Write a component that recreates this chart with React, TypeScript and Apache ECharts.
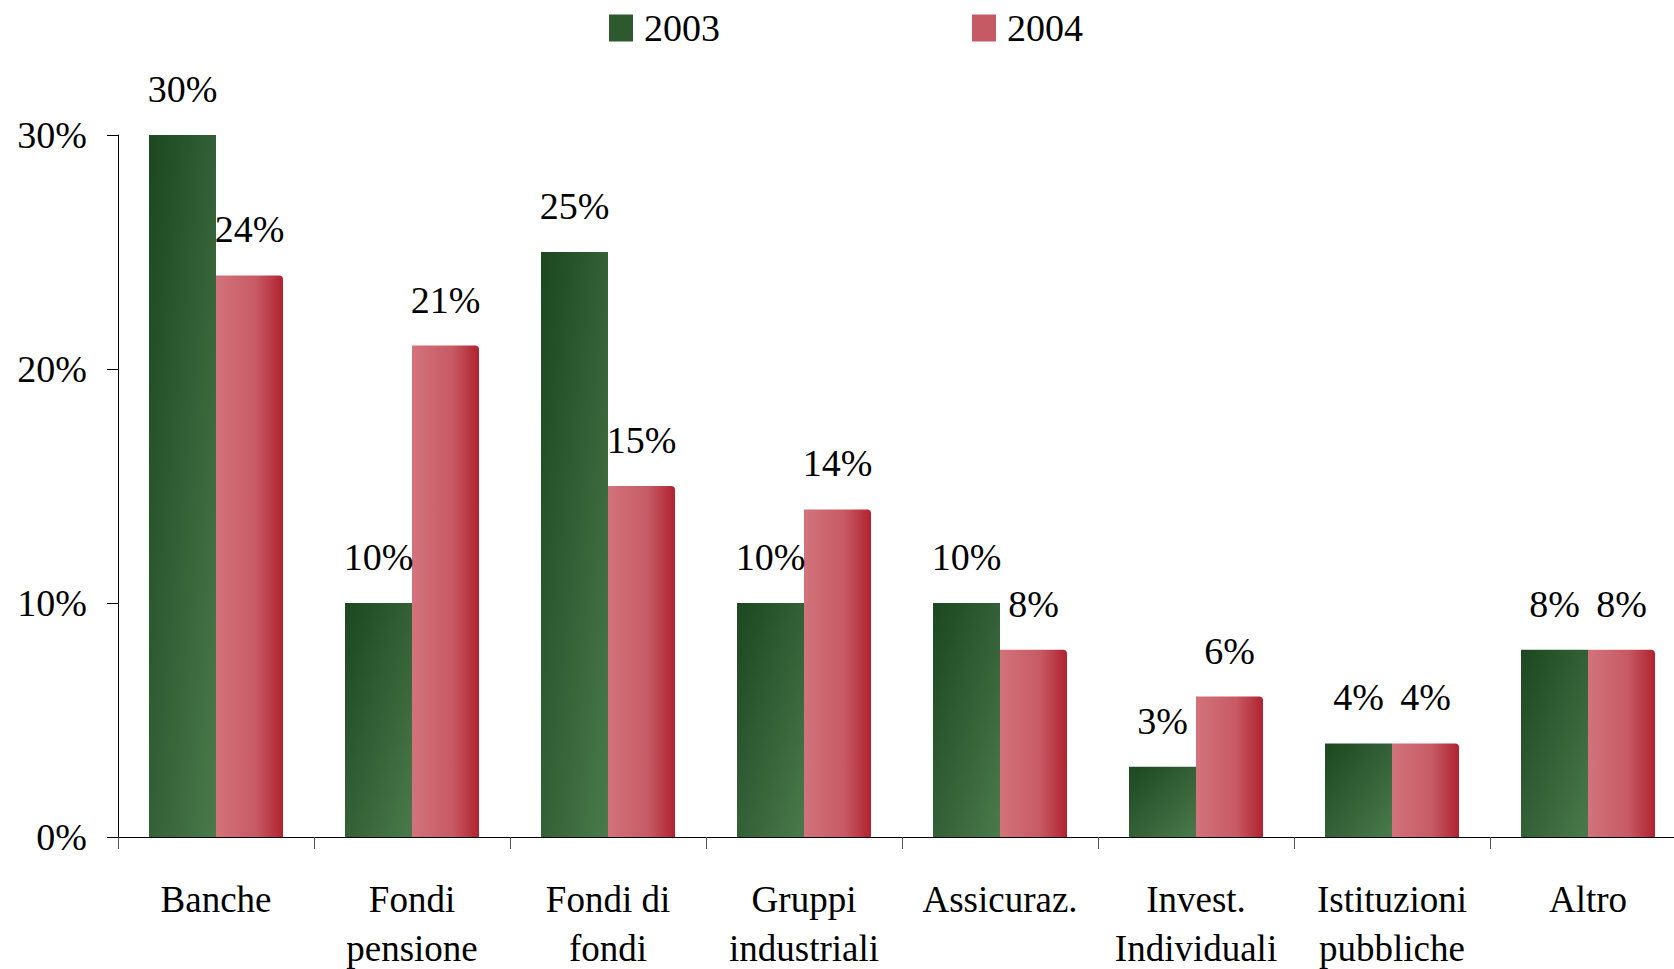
import React, { useEffect, useRef } from "react";
import * as echarts from "echarts";

const categories = [
  "Banche",
  "Fondi\npensione",
  "Fondi di\nfondi",
  "Gruppi\nindustriali",
  "Assicuraz.",
  "Invest.\nIndividuali",
  "Istituzioni\npubbliche",
  "Altro",
];
const values2003 = [30, 10, 25, 10, 10, 3, 4, 8];
const values2004 = [24, 21, 15, 14, 8, 6, 4, 8];
const yTicks = [0, 10, 20, 30];

const FONT = "'Liberation Serif', 'Times New Roman', serif";

export default function App() {
  const ref = useRef<HTMLDivElement>(null);
  useEffect(() => {
    if (!ref.current) return;
    const chart = echarts.init(ref.current, null, { renderer: "svg" });
    const green = new echarts.graphic.LinearGradient(0, 0, 1, 1, [
      { offset: 0, color: "#1c4720" },
      { offset: 1, color: "#4a7a4c" },
    ]);
    const red = new echarts.graphic.LinearGradient(0, 0, 1, 0, [
      { offset: 0, color: "#d2737b" },
      { offset: 0.6, color: "#c65a64" },
      { offset: 1, color: "#b0222f" },
    ]);
    const labelCommon = {
      show: true,
      position: "top" as const,
      distance: 27,
      color: "#000",
      fontFamily: FONT,
      fontSize: 38,
      formatter: (p: any) => p.value + "%",
    };
    chart.setOption({
      animation: false,
      backgroundColor: "#fff",
      textStyle: { fontFamily: FONT },
      legend: {
        left: 604,
        top: 4,
        icon: "rect",
        itemWidth: 24,
        itemHeight: 27,
        itemGap: 252,
        textStyle: {
          fontFamily: FONT,
          fontSize: 38,
          color: "#000",
          padding: [0, 0, 0, 6],
        },
        data: [
          { name: "2003", itemStyle: { color: "#2c5a2e" } },
          { name: "2004", itemStyle: { color: "#c65a64" } },
        ],
      },
      grid: {
        left: 118,
        top: 135,
        width: 1568,
        height: 702,
        containLabel: false,
        outerBoundsMode: "none",
      },
      xAxis: {
        type: "category",
        data: categories,
        axisLine: { show: true, lineStyle: { color: "#000", width: 1 } },
        axisTick: {
          show: true,
          length: 12,
          alignWithLabel: false,
          lineStyle: { color: "#555", width: 1 },
        },
        axisLabel: {
          color: "#000",
          fontFamily: FONT,
          fontSize: 37,
          lineHeight: 49,
          margin: 38,
          interval: 0,
        },
      },
      yAxis: {
        type: "value",
        min: yTicks[0],
        max: yTicks[yTicks.length - 1],
        interval: 10,
        splitLine: { show: false },
        axisLine: { show: true, lineStyle: { color: "#000", width: 1 } },
        axisTick: { show: true, length: 11, lineStyle: { color: "#000" } },
        axisLabel: {
          color: "#000",
          fontFamily: FONT,
          fontSize: 38,
          margin: 31,
          formatter: (v: number) => v + "%",
        },
      },
      series: [
        {
          name: "2003",
          type: "bar",
          data: values2003,
          barWidth: 67,
          barGap: "0%",
          itemStyle: { color: green },
          label: labelCommon,
        },
        {
          name: "2004",
          type: "bar",
          data: values2004,
          barWidth: 67,
          barGap: "0%",
          itemStyle: { color: red, borderRadius: [0, 4, 0, 0] },
          label: labelCommon,
        },
      ],
    });
    return () => chart.dispose();
  }, []);
  return (
    <div
      ref={ref}
      style={{ position: "fixed", left: 0, top: 0, width: 1674, height: 969 }}
    />
  );
}
